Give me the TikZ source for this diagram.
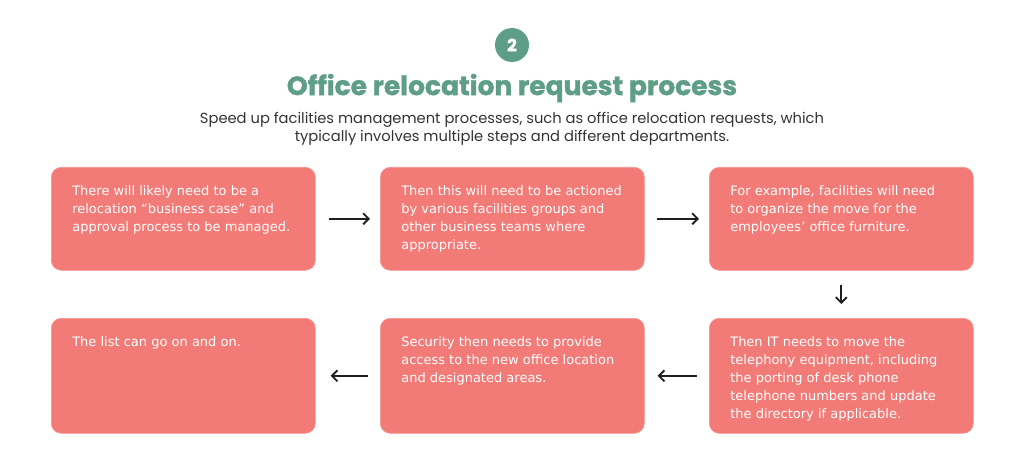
\documentclass[tikz,border=0pt]{standalone}
\usepackage{fontspec}
\setmainfont{DejaVu Sans}
\newfontfamily\titlefont{Poppins}
\newfontfamily\titleheavy{Poppins}[BoldFeatures={FakeBold=1.3}]
\usetikzlibrary{arrows.meta}
\definecolor{boxred}{HTML}{F37B77}
\definecolor{titlegreen}{HTML}{5E9E87}
\definecolor{subgray}{HTML}{333333}
\newcommand\boxtxt[2]{\parbox[t][#1][t]{222pt}{\fontsize{13}{18}\selectfont #2}}
\begin{document}
\begin{tikzpicture}[x=1pt,y=-1pt,
  stepbox/.style={fill=boxred, draw=boxred!80!white, line width=0.6pt, rounded corners=10pt,
    anchor=north west, minimum width=264pt, inner xsep=21pt, inner ysep=18.5pt,
    text=white, align=left},
  flow/.style={-{Straight Barb[length=5.5pt,width=11pt,line width=1.9pt]}, line width=2.1pt, black!88}]
\useasboundingbox (0,0) rectangle (1024,465);
\node[circle, fill=titlegreen, minimum size=34pt, inner sep=0pt, text=white,
  font=\titleheavy\bfseries\fontsize{17}{17}\selectfont] (num) at (512,45) {2};
\node[text=titlegreen, font=\titleheavy\bfseries\fontsize{26.5}{30}\selectfont] (title) at (512,88) {Office relocation request process};
\node[text=subgray, align=center, font=\titlefont\fontsize{14.7}{18}\selectfont] (sub) at (512,128.5)
  {Speed up facilities management processes, such as office relocation requests, which\\typically involves multiple steps and different departments.};
\node[stepbox] (b1) at (51,167) {\boxtxt{66pt}{There will likely need to be a\\relocation “business case” and\\approval process to be managed.}};
\node[stepbox] (b2) at (380,167) {\boxtxt{66pt}{Then this will need to be actioned\\by various facilities groups and\\other business teams where\\appropriate.}};
\node[stepbox] (b3) at (709,167) {\boxtxt{66pt}{For example, facilities will need\\to organize the move for the\\employees’ office furniture.}};
\node[stepbox] (b6) at (709,318) {\boxtxt{78pt}{Then IT needs to move the\\telephony equipment, including\\the porting of desk phone\\telephone numbers and update\\the directory if applicable.}};
\node[stepbox] (b5) at (380,318) {\boxtxt{78pt}{Security then needs to provide\\access to the new office location\\and designated areas.}};
\node[stepbox] (b4) at (51,318) {\boxtxt{78pt}{The list can go on and on.}};
\draw[flow, shorten <=13pt, shorten >=10pt] (b1.east) -- (b2.west);
\draw[flow, shorten <=12pt, shorten >=10pt] (b2.east) -- (b3.west);
\draw[flow, shorten <=14pt, shorten >=14pt] (b3.south) -- (b6.north);
\draw[flow, shorten <=12pt, shorten >=13pt] (b6.west) -- (b5.east);
\draw[flow, shorten <=12pt, shorten >=15pt] (b5.west) -- (b4.east);
\end{tikzpicture}
\end{document}
